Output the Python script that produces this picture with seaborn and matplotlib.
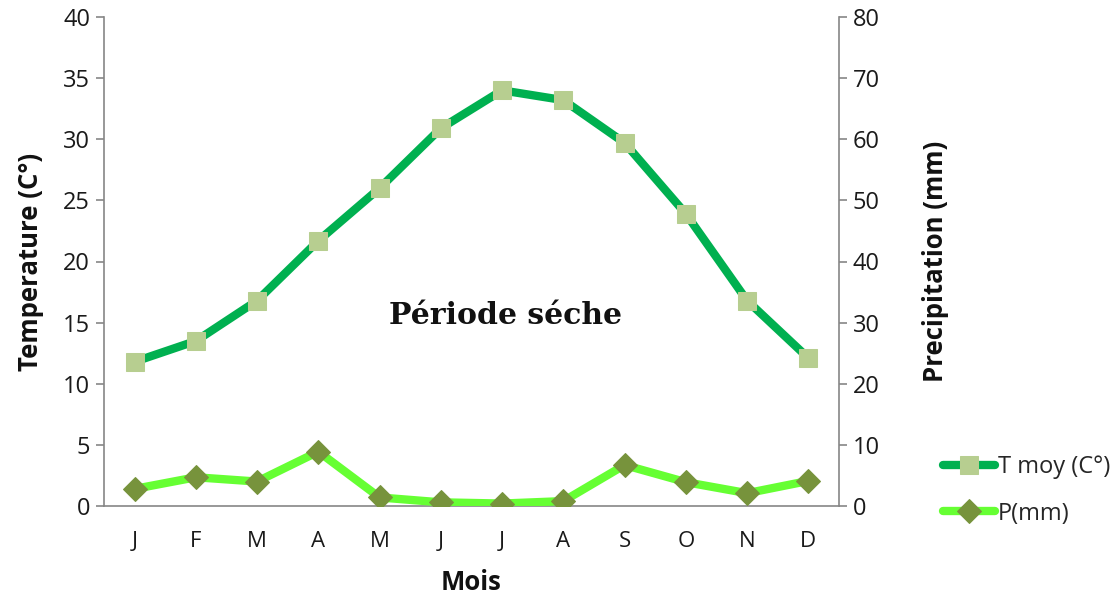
import matplotlib
matplotlib.use("Agg")
import matplotlib.pyplot as plt
import seaborn as sns
import pandas as pd

months = ["J", "F", "M", "A", "M", "J", "J", "A", "S", "O", "N", "D"]
temp = [11.8, 13.5, 16.8, 21.7, 26.0, 30.9, 34.0, 33.2, 29.7, 23.9, 16.8, 12.1]
precip = [2.8, 4.7, 4.0, 8.9, 1.4, 0.6, 0.4, 0.8, 6.7, 3.9, 2.1, 4.1]
temp_ticks = [0, 5, 10, 15, 20, 25, 30, 35, 40]
precip_ticks = [0, 10, 20, 30, 40, 50, 60, 70, 80]

sns.set_theme(style="white")
plt.rcParams['font.family'] = ['Open Sans', 'DejaVu Sans']

df = pd.DataFrame({"idx": range(len(months)), "temp": temp, "precip": precip})

fig = plt.figure(figsize=(11.2, 6.01), dpi=100)
ax = fig.add_axes([104/1120, 95/601, (839-104)/1120, (506-17)/601])
ax2 = ax.twinx()

sns.lineplot(data=df, x="idx", y="temp", ax=ax, color="#00B050", linewidth=6,
             marker="s", markersize=13, markerfacecolor="#B7CE90",
             markeredgecolor="#B7CE90", label="T moy (C°)", legend=False)
sns.lineplot(data=df, x="idx", y="precip", ax=ax2, color="#66FF33", linewidth=6,
             marker="D", markersize=12, markerfacecolor="#77933C",
             markeredgecolor="#77933C", label="P(mm)", legend=False)

ax.set_xlim(-0.5, len(months) - 0.5)
ax.set_ylim(0, 40)
ax2.set_ylim(0, 80)
ax.set_yticks(temp_ticks)
ax2.set_yticks(precip_ticks)
ax.set_xticks(range(len(months)))
ax.set_xticklabels(months)

gray = "#868686"
for a in (ax, ax2):
    for s in a.spines.values():
        s.set_color(gray)
        s.set_linewidth(1.2)
    a.spines["top"].set_visible(False)
    a.grid(False)
ax.spines["right"].set_visible(False)
ax2.spines["left"].set_visible(False)
ax2.spines["bottom"].set_visible(False)

ax.tick_params(axis="y", which="major", direction="out", length=6, width=1.2,
               color=gray, labelsize=17, labelcolor="#1a1a1a", pad=4, left=True)
ax.tick_params(axis="x", length=0, labelsize=16, labelcolor="#1a1a1a", pad=18)
ax2.tick_params(axis="y", direction="out", length=6, width=1.2, color=gray,
                labelsize=17, labelcolor="#1a1a1a", pad=4, right=True)

ax.set_xlabel("Mois", fontsize=18.5, fontweight="bold", labelpad=12, color="#111111")
ax.set_ylabel("Temperature (C°)", fontsize=18.5, fontweight="bold", labelpad=14, color="#111111")
ax2.set_ylabel("Precipitation (mm)", fontsize=18.5, fontweight="bold", labelpad=30, color="#111111")

ax.text(6.05, 15.6, "Période séche", fontsize=21.5, fontweight="bold",
        family="DejaVu Serif", ha="center", va="center", color="#111111")

h1, l1 = ax.get_legend_handles_labels()
h2, l2 = ax2.get_legend_handles_labels()
fig.legend(h1 + h2, l1 + l2, loc="upper left", bbox_to_anchor=(922/1120, 1 - 434/601),
           frameon=False, fontsize=17, handlelength=2.2, handletextpad=0.1,
           labelspacing=0.95)

fig.savefig("out.png", dpi=100)
